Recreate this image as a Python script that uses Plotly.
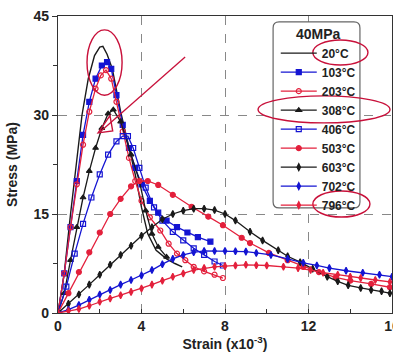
import plotly.graph_objects as go

# ---------------- data ----------------
x_20 = [0, 0.3, 0.6, 0.9, 1.15, 1.45, 1.75, 2.0, 2.15, 2.35, 2.6, 3.0, 3.4, 3.7, 4.0, 4.3, 4.7, 5.2, 5.6, 5.95]
y_20 = [0, 6, 15, 23, 30, 35.5, 39, 40.3, 40.4, 39.2, 37, 30.5, 25, 21, 16, 12, 9.5, 8.2, 7.5, 7.0]

x_103 = [0, 0.3, 0.6, 0.9, 1.2, 1.5, 1.8, 2.1, 2.35, 2.55, 2.8, 3.1, 3.4, 3.7, 4.0, 4.4, 4.8, 5.2, 5.7, 6.2, 6.7, 7.3]
y_103 = [0, 6, 13, 20, 27, 32, 35.5, 37.5, 38, 37, 33, 28.5, 25, 22, 19.5, 17, 15.2, 14, 13, 12.2, 11.5, 10.8]

x_203 = [0, 0.3, 0.6, 0.9, 1.2, 1.5, 1.8, 2.05, 2.3, 2.55, 2.8, 3.1, 3.4, 3.7, 4.0, 4.4, 4.9, 5.3, 5.7, 6.1, 6.5, 7.0, 7.5, 7.9]
y_203 = [0, 6, 13, 19.5, 25.5, 30.5, 34, 36, 36.8, 35.5, 32, 27.5, 23.5, 20, 17, 14.5, 12.5, 10.5, 9, 8, 7, 6.3, 5.8, 5.3]

x_308 = [0, 0.3, 0.6, 0.9, 1.2, 1.5, 1.8, 2.1, 2.4, 2.65, 3.0, 3.5, 3.9, 4.2, 4.5, 4.8, 5.2]
y_308 = [0, 3, 8, 13, 17.5, 21.5, 25, 28, 30.2, 30.8, 29, 24, 20, 15.5, 12, 10, 8.5]

x_406 = [0, 0.4, 0.8, 1.2, 1.6, 2.0, 2.4, 2.8, 3.1, 3.35, 3.6, 3.9, 4.2, 4.6, 5.0, 5.5, 6.0, 6.5, 7.0, 7.5, 7.9]
y_406 = [0, 4, 9, 13.5, 17.5, 21, 24, 26, 26.8, 26.8, 25, 22, 19, 16, 14, 12.3, 11, 9.8, 8.8, 7.8, 7.2]

x_503 = [0, 0.5, 1.0, 1.5, 2.0, 2.5, 3.0, 3.5, 3.9, 4.3, 4.8, 5.5, 6.4, 7.2, 7.9, 8.8, 9.2, 10.1, 11.0, 11.75, 12.5, 13.3, 14.0, 15.0, 15.9]
y_503 = [0, 3, 6.2, 9.2, 12.2, 15, 17.3, 19.2, 20, 20, 19.4, 17.9, 16.1, 14.6, 13.3, 11.4, 10.6, 9.1, 8.0, 7.0, 6.2, 5.4, 4.9, 4.4, 3.9]

x_603 = [0, 0.5, 1.0, 1.5, 2.0, 2.5, 3.0, 3.5, 4.0, 4.5, 5.0, 5.5, 6.0, 6.5, 7.0, 7.5, 8.0, 8.5, 9.2, 9.8, 10.55, 11.0, 11.6, 12.2, 12.9, 13.4, 13.9, 14.5, 15.0, 15.5, 15.9]
y_603 = [0, 1.4, 2.8, 4.3, 5.8, 7.3, 8.8, 10.2, 11.7, 13.0, 14.2, 15.0, 15.5, 15.8, 15.8, 15.6, 15.0, 14.0, 12.3, 11.0, 9.5, 8.6, 7.7, 6.7, 5.5, 4.8, 4.2, 3.8, 3.5, 3.3, 3.0]

x_702 = [0, 0.5, 1.0, 1.5, 2.0, 2.5, 3.0, 3.5, 4.0, 4.5, 5.0, 5.5, 6.0, 6.5, 7.0, 7.5, 8.0, 8.5, 9.0, 9.5, 10.2, 11.0, 11.75, 12.4, 13.0, 13.8, 14.6, 15.4, 16.0]
y_702 = [0, 0.5, 1.2, 2.0, 2.8, 3.5, 4.3, 5.0, 5.7, 6.5, 7.4, 8.2, 8.8, 9.2, 9.4, 9.4, 9.4, 9.35, 9.3, 9.1, 8.8, 8.2, 7.6, 7.2, 6.8, 6.4, 6.1, 5.8, 5.5]

x_796 = [0, 0.5, 1.0, 1.5, 2.0, 2.5, 3.0, 3.5, 4.0, 4.5, 5.0, 5.5, 6.0, 6.5, 7.0, 7.5, 8.0, 8.5, 9.0, 9.5, 10.0, 10.8, 11.5, 12.1, 12.7, 13.4, 14.0, 14.5, 15.2, 15.9]
y_796 = [0, 0.3, 0.6, 1.1, 1.7, 2.2, 2.7, 3.2, 3.7, 4.3, 4.9, 5.5, 6.0, 6.5, 6.8, 7.0, 7.1, 7.2, 7.3, 7.25, 7.2, 7.0, 6.8, 6.5, 6.1, 5.8, 5.5, 5.3, 5.0, 4.7]

series_names = ["20°C", "103°C", "203°C", "308°C", "406°C", "503°C", "603°C", "702°C", "796°C"]
x_ticks = [0, 4, 8, 12, 16]
y_ticks = [0, 15, 30, 45]

# ---------------- styles ----------------
BLUE = "#1414d2"
RED = "#e3203c"
BLACK = "#1a1a1a"
ANN = "#c8103a"

styles = [
    dict(color=BLACK, symbol=None),
    dict(color=BLUE, symbol="square"),
    dict(color=RED, symbol="circle-open"),
    dict(color=BLACK, symbol="triangle-up"),
    dict(color=BLUE, symbol="square-open"),
    dict(color=RED, symbol="circle"),
    dict(color=BLACK, symbol="diamond-tall"),
    dict(color=BLUE, symbol="diamond-tall"),
    dict(color=RED, symbol="diamond-tall"),
]
xs = [x_20, x_103, x_203, x_308, x_406, x_503, x_603, x_702, x_796]
ys = [y_20, y_103, y_203, y_308, y_406, y_503, y_603, y_702, y_796]

FONT = "Liberation Sans, Arial, sans-serif"

fig = go.Figure()
for name, x, y, st in zip(series_names, xs, ys, styles):
    if st["symbol"] is None:
        fig.add_trace(go.Scatter(x=x, y=y, name=name, mode="lines",
                                 line=dict(color=st["color"], width=1.4)))
    else:
        fig.add_trace(go.Scatter(x=x, y=y, name=name, mode="lines+markers",
                                 line=dict(color=st["color"], width=1.3),
                                 marker=dict(symbol=st["symbol"], size=5, color=st["color"],
                                             line=dict(color=st["color"], width=1.2))))

def rrect(x0, y0, x1, y1, rx, ry):
    return (f"M {x0+rx},{y0} L {x1-rx},{y0} Q {x1},{y0} {x1},{y0+ry} "
            f"L {x1},{y1-ry} Q {x1},{y1} {x1-rx},{y1} L {x0+rx},{y1} "
            f"Q {x0},{y1} {x0},{y1-ry} L {x0},{y0+ry} Q {x0},{y0} {x0+rx},{y0} Z")

shapes = [
    dict(type="path", xref="paper", yref="paper", layer="above",
         path=rrect(0.644, 0.354, 0.904, 0.980, 0.018, 0.02),
         line=dict(color="#666666", width=1.2), fillcolor="white"),
    dict(type="circle", xref="x", yref="y", x0=1.39, x1=3.07, y0=33.0, y1=42.9,
         line=dict(color=ANN, width=1.4)),
    dict(type="line", xref="x", yref="y", x0=6.09, y0=38.8, x1=1.97, y1=27.3,
         line=dict(color=ANN, width=1.3)),
    dict(type="path", xref="x", yref="y", path="M 1.92,27.3 L 2.49,29.9 L 2.62,27.6 Z",
         line=dict(color=ANN, width=1.4)),
    dict(type="circle", xref="paper", yref="paper", x0=0.763, x1=0.928, y0=0.835, y1=0.919,
         line=dict(color=ANN, width=1.4)),
    dict(type="circle", xref="paper", yref="paper", x0=0.599, x1=0.994, y0=0.640, y1=0.731,
         line=dict(color=ANN, width=1.4)),
    dict(type="circle", xref="paper", yref="paper", x0=0.763, x1=0.934, y0=0.323, y1=0.411,
         line=dict(color=ANN, width=1.4)),
]

fig.update_layout(
    width=393, height=360,
    margin=dict(l=58, r=1, t=16, b=47, autoexpand=False),
    paper_bgcolor="white", plot_bgcolor="white",
    font=dict(family=FONT, color="#222222", size=13, weight="bold"),
    showlegend=True,
    legend=dict(x=0.652, y=0.985, xanchor="left", yanchor="top",
                bgcolor="rgba(0,0,0,0)", borderwidth=0,
                font=dict(family=FONT, size=12, color="#222222", weight="bold"),
                title=dict(text="40MPa", side="top center",
                           font=dict(family=FONT, size=14, color="#222222", weight="bold")),
                tracegroupgap=0, itemwidth=36),
    shapes=shapes,
)

fig.update_xaxes(range=[0, 16], tickvals=x_ticks, ticktext=[str(v) for v in x_ticks],
                 automargin=False, ticklabeloverflow="allow",
                 ticks="inside", ticklen=4, tickcolor="#333",
                 minor=dict(dtick=2, ticks="inside", ticklen=4, tickcolor="#333", showgrid=False),
                 showline=True, linecolor="#333", linewidth=1.3, mirror=True,
                 showgrid=True, gridcolor="#888", griddash="dash", gridwidth=1,
                 zeroline=False,
                 tickfont=dict(family=FONT, size=14, weight="bold", color="#222"),
                 title=dict(text="Strain (x10<sup>-3</sup>)", standoff=4,
                            font=dict(family=FONT, size=14, weight="bold", color="#222")))
fig.update_yaxes(range=[0, 45], tickvals=y_ticks, ticktext=[str(v) for v in y_ticks],
                 automargin=False,
                 ticks="outside", ticklen=5, tickcolor="#333",
                 minor=dict(dtick=7.5, ticks="outside", ticklen=4, tickcolor="#333", showgrid=False),
                 showline=True, linecolor="#333", linewidth=1.3, mirror=True,
                 showgrid=True, gridcolor="#888", griddash="dash", gridwidth=1,
                 zeroline=False,
                 tickfont=dict(family=FONT, size=14, weight="bold", color="#222"),
                 title=dict(text="Stress (MPa)", standoff=12,
                            font=dict(family=FONT, size=14, weight="bold", color="#222")))

fig.write_html("out.html", config={"displayModeBar": False},
               post_script="document.body.style.margin='0';document.body.style.padding='0';")
